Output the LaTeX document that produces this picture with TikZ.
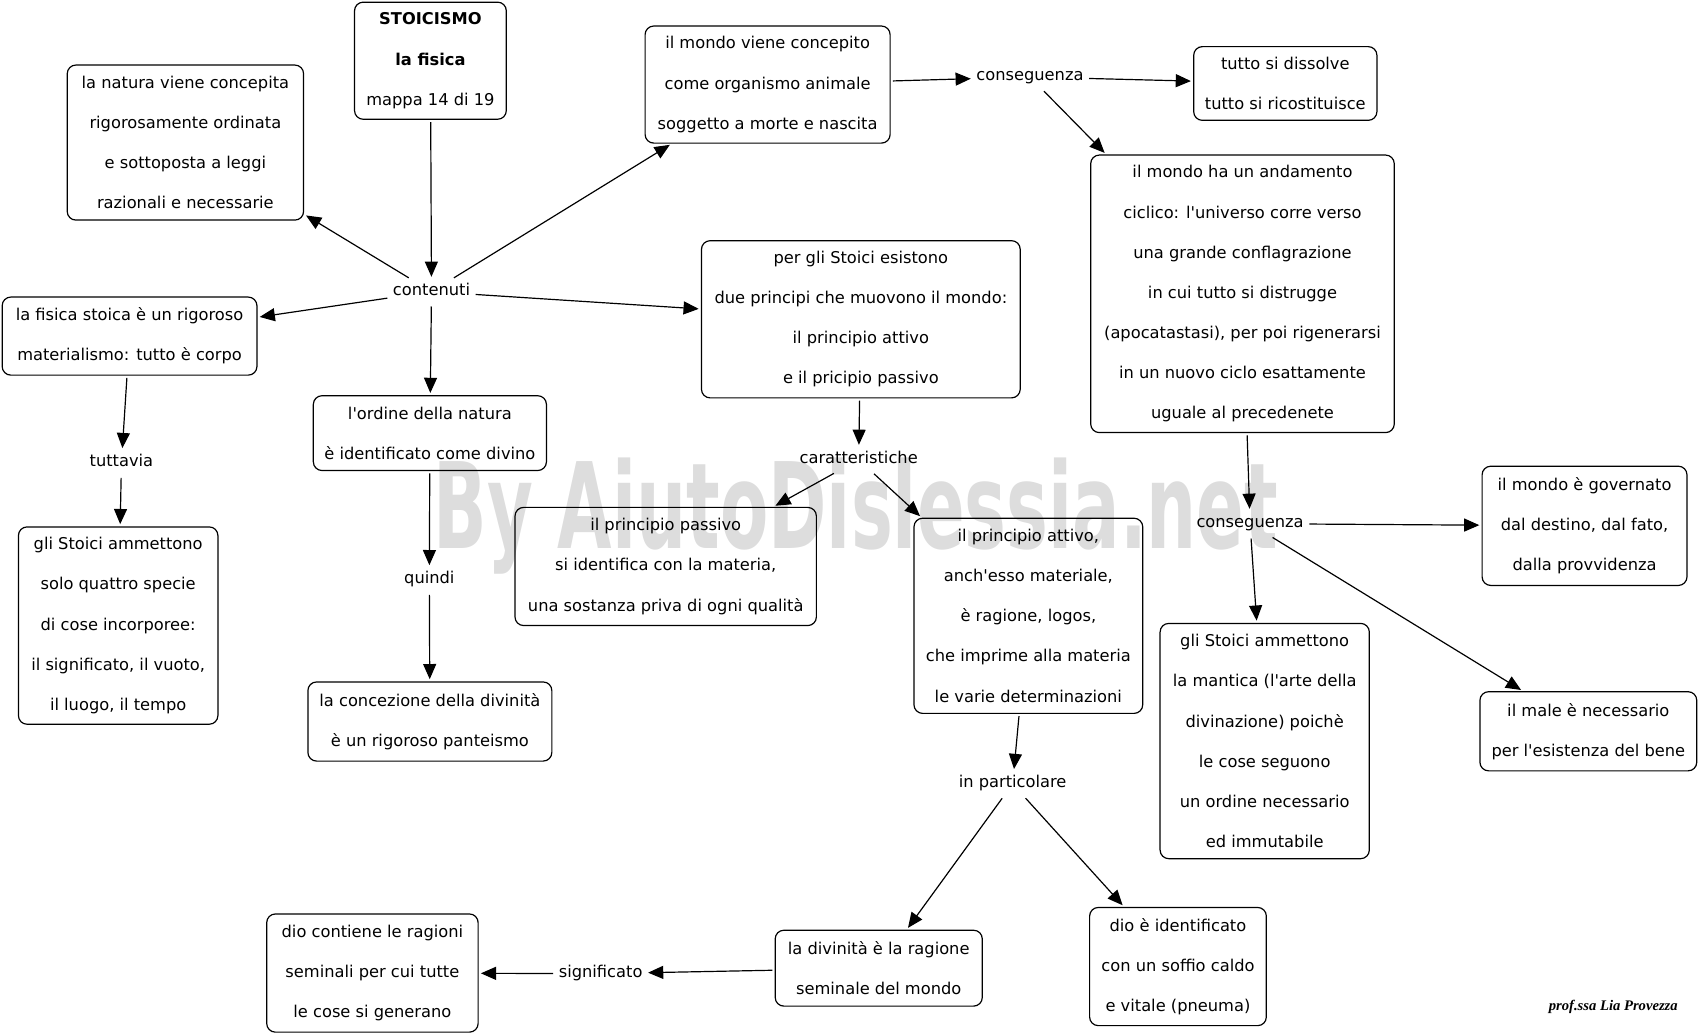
\documentclass[tikz,border=0pt]{standalone}
\usepackage{fontspec}
\setmainfont[Ligatures=TeXOff]{DejaVu Sans}
\newfontfamily\sigfont{Liberation Serif}
\usetikzlibrary{arrows.meta}
\definecolor{wmgray}{RGB}{221,221,221}
\begin{document}
\begin{tikzpicture}[x=1pt,y=-1pt,
  box/.style={draw, rounded corners=8pt, line width=1.1pt, align=center, inner sep=0pt, font=\fontsize{15}{37}\selectfont},
  lbl/.style={inner xsep=3pt, inner ysep=4pt, text height=11pt, text depth=4pt, font=\fontsize{15}{18}\selectfont},
  conn/.style={-{Triangle[length=14pt,width=12pt]}, line width=1.1pt, shorten >=2pt, shorten <=2pt}]
\useasboundingbox (0,0) rectangle (1568,954.6);
% watermark
\node[anchor=base west, inner sep=0pt, text=wmgray] (wm) at (400,505.5) {\scalebox{0.59}[1]{\fontsize{110}{110}\selectfont\bfseries By AiutoDislessia.net}};
% boxes
\node[box, minimum width=140pt, minimum height=108pt] (stoic) at (397,56) {\textbf{STOICISMO}\\\textbf{la fisica}\\mappa 14 di 19};
\node[box, minimum width=218pt, minimum height=143pt] (natura) at (171,131.5) {la natura viene concepita\\rigorosamente ordinata\\e sottoposta a leggi\\razionali e necessarie};
\node[box, minimum width=226pt, minimum height=108pt] (mondo) at (708,78) {il mondo viene concepito\\come organismo animale\\soggetto a morte e nascita};
\node[box, minimum width=169pt, minimum height=68pt] (dissolve) at (1185.5,77) {tutto si dissolve\\tutto si ricostituisce};
\node[box, minimum width=280pt, minimum height=256pt] (ciclo) at (1146,271) {il mondo ha un andamento\\ciclico: l'universo corre verso\\una grande conflagrazione\\in cui tutto si distrugge\\(apocatastasi), per poi rigenerarsi\\in un nuovo ciclo esattamente\\uguale al precedenete};
\node[box, minimum width=235pt, minimum height=72pt] (fisica) at (119.5,310) {la fisica stoica è un rigoroso\\materialismo: tutto è corpo};
\node[box, minimum width=294pt, minimum height=145pt] (principi) at (794,294.5) {per gli Stoici esistono\\due principi che muovono il mondo:\\il principio attivo\\e il pricipio passivo};
\node[box, minimum width=215pt, minimum height=69pt] (ordine) at (396.5,399.5) {l'ordine della natura\\è identificato come divino};
\node[box, minimum width=184pt, minimum height=182pt] (quattro) at (109,577) {gli Stoici ammettono\\solo quattro specie\\di cose incorporee:\\il significato, il vuoto,\\il luogo, il tempo};
\node[box, minimum width=278pt, minimum height=109pt] (passivo) at (614,522.5) {il principio passivo\\si identifica con la materia,\\una sostanza priva di ogni qualità};
\node[box, minimum width=211pt, minimum height=180pt] (attivo) at (948.5,568) {il principio attivo,\\anch'esso materiale,\\è ragione, logos,\\che imprime alla materia\\le varie determinazioni};
\node[box, minimum width=225pt, minimum height=73pt] (panteismo) at (396.5,665.5) {la concezione della divinità\\è un rigoroso panteismo};
\node[box, minimum width=189pt, minimum height=110pt] (governato) at (1461.5,485) {il mondo è governato\\dal destino, dal fato,\\dalla provvidenza};
\node[box, minimum width=193pt, minimum height=217pt] (mantica) at (1166.5,683.5) {gli Stoici ammettono\\la mantica (l'arte della\\divinazione) poichè\\le cose seguono\\un ordine necessario\\ed immutabile};
\node[box, minimum width=200pt, minimum height=73pt] (male) at (1465,674.5) {il male è necessario\\per l'esistenza del bene};
\node[box, minimum width=191pt, minimum height=70pt] (seminale) at (810.5,893) {la divinità è la ragione\\seminale del mondo};
\node[box, minimum width=163pt, minimum height=109pt] (pneuma) at (1086.5,891.5) {dio è identificato\\con un soffio caldo\\e vitale (pneuma)};
\node[box, minimum width=195pt, minimum height=109pt] (ragioni) at (343.5,897.5) {dio contiene le ragioni\\seminali per cui tutte\\le cose si generano};
% labels
\node[lbl] (cont) at (398,269) {contenuti};
\node[lbl] (cons1) at (950,71) {conseguenza};
\node[lbl] (tuttavia) at (112,427) {tuttavia};
\node[lbl] (caratt) at (792,424) {caratteristiche};
\node[lbl] (quindi) at (396,535) {quindi};
\node[lbl] (cons2) at (1153,483) {conseguenza};
\node[lbl] (inpart) at (934,723) {in particolare};
\node[lbl] (signif) at (554,898) {significato};
% signature
\node[inner sep=0pt, font=\sigfont\bfseries\itshape\fontsize{13.5}{13.5}\selectfont] (sig) at (1488,929) {prof.ssa Lia Provezza};
% connectors
\draw[conn] (stoic) -- (cont);
\draw[conn] (cont) -- (natura);
\draw[conn] (cont) -- (mondo);
\draw[conn] (cont) -- (fisica);
\draw[conn] (cont) -- (principi);
\draw[conn] (cont) -- (ordine);
\draw[conn] (fisica) -- (tuttavia);
\draw[conn] (tuttavia) -- (quattro);
\draw[conn] (ordine) -- (quindi);
\draw[conn] (quindi) -- (panteismo);
\draw[conn] (mondo) -- (cons1);
\draw[conn] (cons1) -- (dissolve);
\draw[conn] (cons1) -- (ciclo);
\draw[conn] (ciclo) -- (cons2);
\draw[conn] (cons2) -- (governato);
\draw[conn] (cons2) -- (mantica);
\draw[conn] (cons2) -- (male);
\draw[conn] (principi) -- (caratt);
\draw[conn] (caratt) -- (passivo);
\draw[conn] (caratt) -- (attivo);
\draw[conn] (attivo) -- (inpart);
\draw[conn] (inpart) -- (seminale);
\draw[conn] (inpart) -- (pneuma);
\draw[conn] (seminale) -- (signif);
\draw[conn] (signif) -- (ragioni);
\end{tikzpicture}
\end{document}
